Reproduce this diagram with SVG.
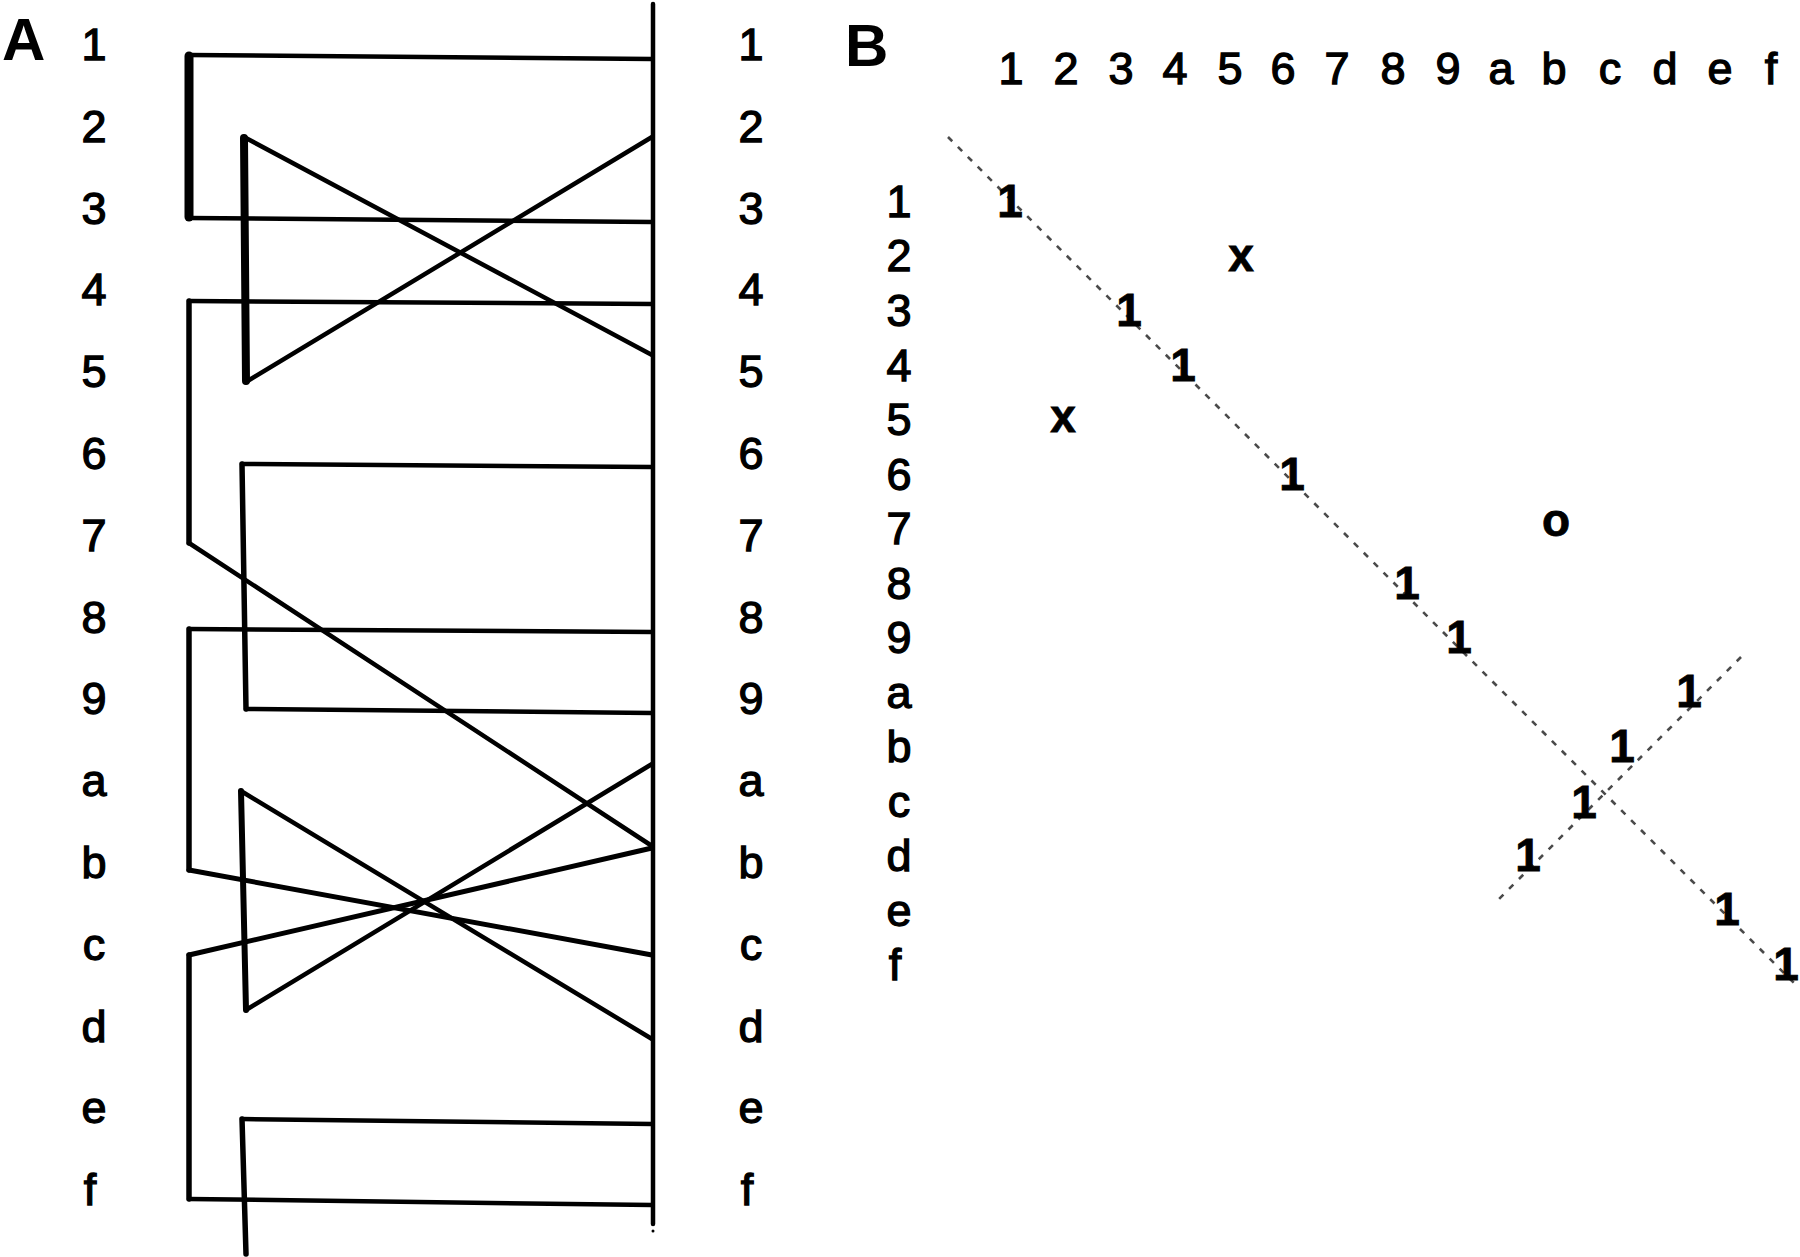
<svg xmlns="http://www.w3.org/2000/svg" width="1800" height="1257" viewBox="0 0 1800 1257">
<style>
.lbl{font-family:"Liberation Sans",Arial,sans-serif;font-size:45px;fill:#000;stroke:#000;stroke-width:1.3px;text-anchor:middle}
.pl{font-family:"Liberation Sans",Arial,sans-serif;font-size:60px;font-weight:bold;fill:#000}
.m{font-family:"Liberation Sans",Arial,sans-serif;font-size:46px;font-weight:bold;fill:#000;stroke:#000;stroke-width:0.8px;text-anchor:middle}
.w{fill:none;stroke:#000;stroke-width:4.5;stroke-linecap:round;stroke-linejoin:round}
.v{fill:none;stroke:#000;stroke-width:5.5;stroke-linecap:round}
.tv{fill:none;stroke:#000;stroke-width:9;stroke-linecap:round}
.d{fill:none;stroke:#4a4a4a;stroke-width:2.6;stroke-dasharray:6 8}
</style>
<rect width="1800" height="1257" fill="#fff"/>
<g id="panelA-title"><text class="pl" x="2" y="60">A</text></g>
<g id="left-labels">
<text class="lbl" x="94" y="60">1</text>
<text class="lbl" x="94" y="142">2</text>
<text class="lbl" x="94" y="224">3</text>
<text class="lbl" x="94" y="305">4</text>
<text class="lbl" x="94" y="387">5</text>
<text class="lbl" x="94" y="469">6</text>
<text class="lbl" x="94" y="551">7</text>
<text class="lbl" x="94" y="633">8</text>
<text class="lbl" x="94" y="714">9</text>
<text class="lbl" x="94" y="796">a</text>
<text class="lbl" x="94" y="878">b</text>
<text class="lbl" x="94" y="960">c</text>
<text class="lbl" x="94" y="1042">d</text>
<text class="lbl" x="94" y="1123">e</text>
<text class="lbl" x="90" y="1205">f</text>
</g>
<g id="right-labels">
<text class="lbl" x="751" y="60">1</text>
<text class="lbl" x="751" y="142">2</text>
<text class="lbl" x="751" y="224">3</text>
<text class="lbl" x="751" y="305">4</text>
<text class="lbl" x="751" y="387">5</text>
<text class="lbl" x="751" y="469">6</text>
<text class="lbl" x="751" y="551">7</text>
<text class="lbl" x="751" y="633">8</text>
<text class="lbl" x="751" y="714">9</text>
<text class="lbl" x="751" y="796">a</text>
<text class="lbl" x="751" y="878">b</text>
<text class="lbl" x="751" y="960">c</text>
<text class="lbl" x="751" y="1042">d</text>
<text class="lbl" x="751" y="1123">e</text>
<text class="lbl" x="747" y="1205">f</text>
</g>
<g id="connectors-A">
<line class="v" x1="653" y1="4" x2="653" y2="1224" style="stroke-width:4.5"/>
<circle cx="653" cy="1231" r="1.5" fill="#000"/>
<polyline class="w" points="652,59 189,55"/>
<polyline class="w" points="189,218 652,222"/>
<line class="tv" x1="189" y1="56" x2="189" y2="217"/>
<line class="tv" x1="244" y1="138" x2="246" y2="381" style="stroke-width:8"/>
<line class="w" x1="244" y1="137" x2="652" y2="355"/>
<line class="w" x1="246" y1="382" x2="652" y2="137"/>
<polyline class="w" points="652,304 189,301"/>
<line class="v" x1="189" y1="301" x2="189" y2="543"/>
<line class="w" x1="189" y1="543" x2="652" y2="846"/>
<polyline class="w" points="652,467 242,464"/>
<line class="v" x1="242" y1="464" x2="246" y2="709"/>
<polyline class="w" points="246,709 652,713"/>
<polyline class="w" points="652,632 189,629"/>
<line class="v" x1="189" y1="629" x2="189" y2="870"/>
<line class="w" x1="189" y1="870" x2="652" y2="955" style="stroke-width:5"/>
<line class="w" x1="189" y1="955" x2="652" y2="848" style="stroke-width:5"/>
<line class="v" x1="189" y1="955" x2="189" y2="1199"/>
<polyline class="w" points="189,1199 652,1205"/>
<line class="v" x1="241" y1="791" x2="246" y2="1010" style="stroke-width:6"/>
<line class="w" x1="241" y1="791" x2="652" y2="1039"/>
<line class="w" x1="246" y1="1010" x2="652" y2="764"/>
<polyline class="w" points="652,1124 242,1119"/>
<line class="v" x1="242" y1="1119" x2="246" y2="1254"/>
</g>
<g id="panelB-title"><text class="pl" x="845" y="66">B</text></g>
<g id="top-labels">
<text class="lbl" x="1011" y="84">1</text>
<text class="lbl" x="1066" y="84">2</text>
<text class="lbl" x="1121" y="84">3</text>
<text class="lbl" x="1175" y="84">4</text>
<text class="lbl" x="1230" y="84">5</text>
<text class="lbl" x="1283" y="84">6</text>
<text class="lbl" x="1337" y="84">7</text>
<text class="lbl" x="1393" y="84">8</text>
<text class="lbl" x="1448" y="84">9</text>
<text class="lbl" x="1501" y="84">a</text>
<text class="lbl" x="1554" y="84">b</text>
<text class="lbl" x="1610" y="84">c</text>
<text class="lbl" x="1665" y="84">d</text>
<text class="lbl" x="1720" y="84">e</text>
<text class="lbl" x="1771" y="84">f</text>
</g>
<g id="row-labels">
<text class="lbl" x="899" y="217">1</text>
<text class="lbl" x="899" y="271">2</text>
<text class="lbl" x="899" y="326">3</text>
<text class="lbl" x="899" y="381">4</text>
<text class="lbl" x="899" y="435">5</text>
<text class="lbl" x="899" y="490">6</text>
<text class="lbl" x="899" y="544">7</text>
<text class="lbl" x="899" y="599">8</text>
<text class="lbl" x="899" y="653">9</text>
<text class="lbl" x="899" y="708">a</text>
<text class="lbl" x="899" y="762">b</text>
<text class="lbl" x="899" y="817">c</text>
<text class="lbl" x="899" y="871">d</text>
<text class="lbl" x="899" y="926">e</text>
<text class="lbl" x="895" y="980">f</text>
</g>
<g id="diagonals">
<line class="d" x1="948" y1="137" x2="1799" y2="988"/>
<line class="d" x1="1741" y1="657" x2="1494" y2="904"/>
</g>
<g id="entries">
<text class="m" x="1010" y="217">1</text>
<text class="m" x="1241" y="271">x</text>
<text class="m" x="1129" y="326">1</text>
<text class="m" x="1183" y="381">1</text>
<text class="m" x="1063" y="432">x</text>
<text class="m" x="1292" y="490">1</text>
<text class="m" x="1556" y="536">o</text>
<text class="m" x="1407" y="599">1</text>
<text class="m" x="1459" y="653">1</text>
<text class="m" x="1689" y="707">1</text>
<text class="m" x="1622" y="762">1</text>
<text class="m" x="1584" y="818">1</text>
<text class="m" x="1528" y="871">1</text>
<text class="m" x="1727" y="925">1</text>
<text class="m" x="1786" y="980">1</text>
</g>
</svg>
